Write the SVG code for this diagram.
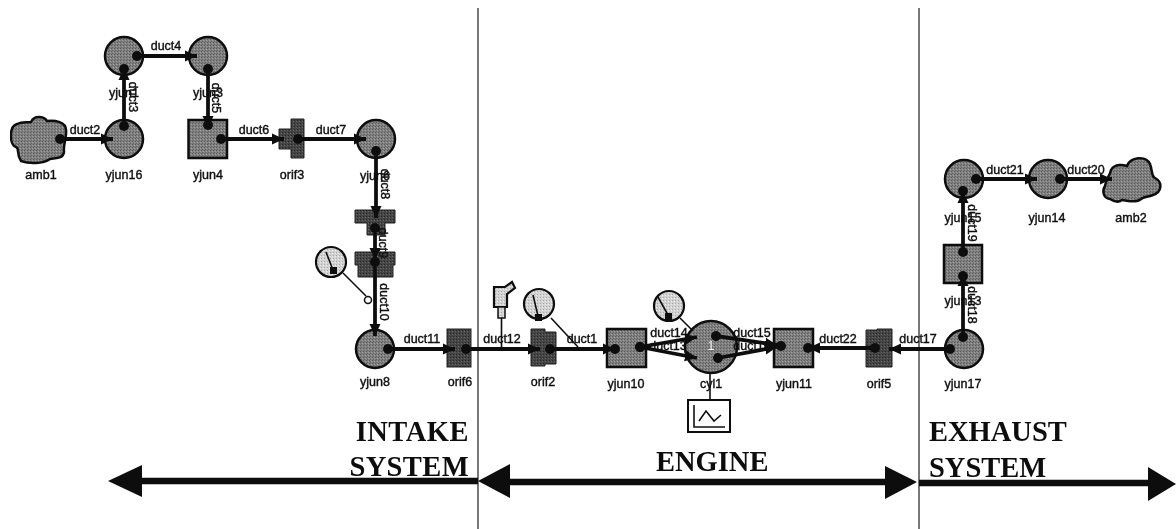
<svg xmlns="http://www.w3.org/2000/svg" width="1176" height="529" viewBox="0 0 1176 529">
<style>
text{font-family:"Liberation Sans",Arial,sans-serif;font-size:12.5px;fill:#111;text-anchor:middle;stroke:#111;stroke-width:.4px}
.h{font-family:"Liberation Serif","Times New Roman",serif;font-size:28.5px;font-weight:bold;text-anchor:start;stroke:none}
.e{text-anchor:end}
.n{fill:url(#mid);stroke:#111;stroke-width:2.5px}
.o{fill:url(#dark);stroke:#222;stroke-width:1px}
.g{fill:url(#light);stroke:#111;stroke-width:2.2px}
.c{fill:none;stroke:#111;stroke-width:3.8px;marker-start:url(#dot);marker-end:url(#arr)}
.t{fill:none;stroke:#111;stroke-width:1.6px}
.p{fill:#111}
.div{stroke:#222;stroke-width:1.2px}
.big{stroke:#111;stroke-width:6.5px}
</style>
<defs>
<filter id="soft" x="0" y="0" width="100%" height="100%"><feGaussianBlur stdDeviation="0.45"/></filter>
<pattern id="mid" width="3" height="3" patternUnits="userSpaceOnUse"><rect width="3" height="3" fill="#808080"/><rect width="1" height="1" fill="#5c5c5c"/><rect x="2" y="1" width="1" height="1" fill="#a0a0a0"/><rect x="1" y="2" width="1" height="1" fill="#666"/></pattern>
<pattern id="dark" width="3" height="3" patternUnits="userSpaceOnUse"><rect width="3" height="3" fill="#444"/><rect width="1" height="1" fill="#262626"/><rect x="2" y="1" width="1" height="1" fill="#666"/></pattern>
<pattern id="light" width="3" height="3" patternUnits="userSpaceOnUse"><rect width="3" height="3" fill="#d2d2d2"/><rect width="1" height="1" fill="#aaa"/><rect x="2" y="1" width="1" height="1" fill="#eee"/></pattern>
<marker id="dot" markerUnits="userSpaceOnUse" markerWidth="12" markerHeight="12" refX="6" refY="6" orient="auto"><circle cx="6" cy="6" r="5" fill="#111"/></marker>
<marker id="arr" markerUnits="userSpaceOnUse" markerWidth="14" markerHeight="14" refX="12" refY="7" orient="auto"><path d="M0 1.5L12 7L0 12.5z" fill="#111"/></marker>
</defs>
<g filter="url(#soft)">
<g id="dividers">
<line class="div" x1="478" y1="8" x2="478" y2="529"/>
<line class="div" x1="919" y1="8" x2="919" y2="529"/>
</g>

<g id="amb1"><path class="n" d="M21 161C16 154 20 149 16 147C9 145 9 126 17 124C23 121 28 123 31 122C34 115 44 116 47 121C55 120 66 122 66 130C67 137 63 145 64 152C63 159 56 158 50 159C43 164 29 164 21 161z"/><text x="41" y="179">amb1</text></g>
<g id="yjun16"><circle class="n" cx="124" cy="139" r="19"/><text x="124" y="179">yjun16</text></g>
<g id="yjun1"><circle class="n" cx="124" cy="56" r="19"/><text x="124" y="97">yjun1</text></g>
<g id="yjun3"><circle class="n" cx="208" cy="56" r="19"/><text x="208" y="97">yjun3</text></g>
<g id="yjun4"><rect class="n" x="188.500" y="120" width="38.500" height="38"/><text x="208" y="179">yjun4</text></g>
<g id="orif3"><path class="o" d="M291 119H304V158H291V149H279V129H291z"/><text x="292" y="179">orif3</text></g>
<g id="yjun6"><circle class="n" cx="376" cy="139" r="19"/><text x="375" y="180">yjun6</text></g>
<g id="orif7"><path class="o" d="M355 210H395V223H385V235H367V223H355z"/></g>
<g id="orif8"><path class="o" d="M355 252H395V265H393V277H358V265H355z"/></g>
<g id="yjun8"><circle class="n" cx="375" cy="349" r="19"/><text x="375" y="386">yjun8</text></g>
<g id="orif6"><rect class="o" x="447" y="329" width="24" height="38"/><text x="460" y="386">orif6</text></g>
<g id="orif2"><path class="o" d="M531 329H545V332H556V364H545V366H531z"/><text x="543" y="386">orif2</text></g>
<g id="yjun10"><rect class="n" x="607" y="329" width="39" height="38"/><text x="626" y="388">yjun10</text></g>
<g id="cyl1"><circle class="n" cx="711" cy="347" r="26"/><text x="711" y="350" style="fill:#eee;stroke:none">1</text><text x="711" y="388">cyl1</text></g>
<g id="yjun11"><rect class="n" x="774" y="329" width="39" height="38"/><text x="794" y="388">yjun11</text></g>
<g id="orif5"><path class="o" d="M866 330H877V329H892V367H866z"/><text x="879" y="388">orif5</text></g>
<g id="yjun17"><circle class="n" cx="964" cy="349" r="19"/><text x="963" y="388">yjun17</text></g>
<g id="yjun13"><rect class="n" x="944" y="245" width="38" height="38"/><text x="963" y="305">yjun13</text></g>
<g id="yjun15"><circle class="n" cx="964" cy="179" r="19"/><text x="963" y="222">yjun15</text></g>
<g id="yjun14"><circle class="n" cx="1048" cy="179" r="19"/><text x="1047" y="222">yjun14</text></g>
<g id="amb2"><path class="n" d="M1110 199C1103 198 1102 191 1105 186C1106 178 1110 176 1111 170C1115 163 1124 165 1127 166C1130 157 1146 155 1150 164C1153 172 1151 176 1155 178C1163 182 1162 192 1153 195C1148 197 1143 197 1141 199C1135 204 1127 200 1122 200C1118 203 1113 201 1110 199z"/><text x="1131" y="222">amb2</text></g>

<g id="gauge1"><circle class="g" cx="331" cy="262" r="15"/><path class="t" d="M326 252L333 270"/><rect class="p" x="330" y="267" width="7" height="7"/></g>
<g id="gauge2"><circle class="g" cx="539" cy="304" r="15"/><path class="t" d="M533 295L538 316"/><rect class="p" x="535" y="314" width="7" height="7"/></g>
<g id="gauge3"><circle class="g" cx="669" cy="306" r="15"/><path class="t" d="M658 297L668 315"/><rect class="p" x="665" y="313" width="7" height="7"/></g>
<g id="sensor"><path class="g" d="M494 287H505L512 282L515 288L507 294V307H494z"/><rect class="g" x="498" y="307" width="7" height="11" style="stroke-width:1.5px"/></g>
<g id="chart"><rect x="688" y="400" width="42" height="32" fill="#fff" stroke="#111" stroke-width="2"/><path class="t" d="M694 405V427H725"/><path class="t" d="M699 421L706 411L714 421L721 415"/></g>

<g id="connectors">
<path class="t" d="M343 273L366 296"/><circle cx="368" cy="300" r="3.500" fill="#fff" stroke="#111" stroke-width="1.500"/>
<path class="t" d="M501.500 318V347"/>
<path class="t" d="M551 318L578 347"/>
<path class="t" d="M680 318L693 331"/>
<path class="t" d="M710 373V400"/>

<path class="c" d="M60 139H113"/>
<path class="c" d="M124 126V68"/>
<path class="c" d="M137 56H197"/>
<path class="c" d="M208 69V128"/>
<path class="c" d="M221 139H284"/>
<path class="c" d="M298 139H366"/>
<path class="c" d="M376 151V218"/>
<path class="c" d="M375 228V260"/>
<path class="c" d="M375 262V336"/>
<path class="c" d="M388 349H455"/>
<path class="c" d="M466 349H540"/>
<path class="c" d="M550 349H615"/>
<path class="c" d="M640 347L697 337"/>
<path class="c" d="M640 347L697 358"/>
<path class="c" d="M716 336L777 345"/>
<path class="c" d="M718 358L777 347"/>
<path class="c" d="M875 348H808"/>
<path class="c" d="M950 349H889"/>
<path class="c" d="M963 337V274"/>
<path class="c" d="M963 252V191"/>
<path class="c" d="M976 179H1037"/>
<path class="c" d="M1060 179H1112"/>
<circle class="p" cx="124" cy="69" r="5"/><circle class="p" cx="208" cy="125" r="5"/><circle class="p" cx="963" cy="191" r="5"/><circle class="p" cx="963" cy="276" r="5"/><circle class="p" cx="808" cy="348" r="5"/><circle class="p" cx="781" cy="346" r="5"/><circle class="p" cx="615" cy="349" r="5"/>

<text x="85" y="134">duct2</text>
<text x="166" y="50">duct4</text>
<text x="254" y="134">duct6</text>
<text x="331" y="134">duct7</text>
<text transform="translate(129 97) rotate(90)">duct3</text>
<text transform="translate(212 98) rotate(90)">duct5</text>
<text transform="translate(381 184) rotate(90)">duct8</text>
<text transform="translate(379 243) rotate(90)">duct9</text>
<text transform="translate(380 302) rotate(90)">duct10</text>
<text x="422" y="343">duct11</text>
<text x="502" y="343">duct12</text>
<text x="582" y="343">duct1</text>
<text x="669" y="337">duct14</text>
<text x="668" y="350">duct13</text>
<text x="752" y="337">duct15</text>
<text x="752" y="350">duct16</text>
<text x="838" y="343">duct22</text>
<text x="918" y="343">duct17</text>
<text transform="translate(968 305) rotate(90)">duct18</text>
<text transform="translate(968 223) rotate(90)">duct19</text>
<text x="1005" y="174">duct21</text>
<text x="1086" y="174">duct20</text>
</g>

<g id="system-arrows">
<line class="big" x1="140" y1="481" x2="478" y2="481"/><path class="p" d="M108 481L142 465V497z"/>
<line class="big" x1="510" y1="482" x2="890" y2="482"/><path class="p" d="M478 481L510 464V498z"/><path class="p" d="M917 482L885 466V499z"/>
<line class="big" x1="919" y1="483" x2="1150" y2="483"/><path class="p" d="M1176 484L1148 467V501z"/>
</g>

<g id="headings">
<text class="h e" x="469" y="441" style="text-anchor:end;letter-spacing:.5px">INTAKE</text>
<text class="h e" x="469" y="476" style="text-anchor:end;letter-spacing:.4px">SYSTEM</text>
<text class="h" x="656" y="471">ENGINE</text>
<text class="h" x="929" y="441">EXHAUST</text>
<text class="h" x="929" y="477">SYSTEM</text>
</g>
</g>
</svg>
